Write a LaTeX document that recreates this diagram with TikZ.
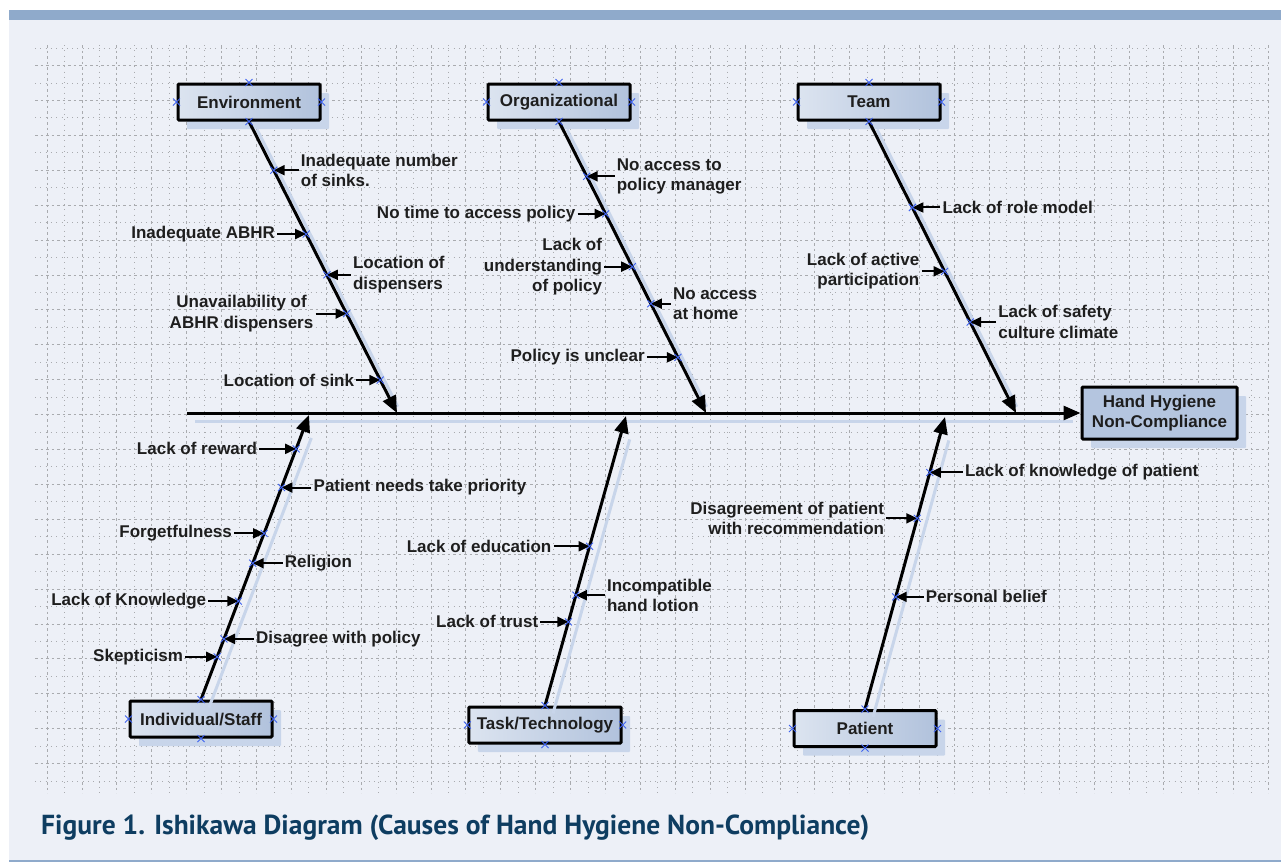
\documentclass[tikz,border=0pt]{standalone}
\usepackage{fontspec}
\setmainfont{Liberation Sans}
\newfontfamily\capfont{PT Sans}
\usetikzlibrary{positioning, arrows.meta, shadows, calc}

\definecolor{bgblue}{HTML}{EDF0F7}
\definecolor{barblue}{HTML}{8FAACB}
\definecolor{gridgray}{HTML}{A9ABAF}
\definecolor{boxlight}{HTML}{DCE4F0}
\definecolor{boxdark}{HTML}{B1C2DC}
\definecolor{effectblue}{HTML}{B4C5DF}
\definecolor{shadowblue}{HTML}{C8D5EA}
\definecolor{markblue}{HTML}{3F63F0}
\definecolor{capblue}{HTML}{0E3D61}
\definecolor{textgray}{HTML}{1E1E1E}

\tikzset{
  catbox/.style={draw=black, line width=3pt, rounded corners=1pt, left color=boxlight, right color=boxdark,
    minimum width=142pt, minimum height=36pt, inner xsep=8pt, text=textgray,
    font=\fontsize{17}{20.5}\selectfont\bfseries,
    drop shadow={shadow xshift=9pt, shadow yshift=-9pt, fill=shadowblue, opacity=1}},
  effectbox/.style={draw=black, line width=3pt, rounded corners=1pt, fill=effectblue, align=center,
    minimum width=155pt, minimum height=52pt, text=textgray,
    font=\fontsize{17}{20.5}\selectfont\bfseries,
    drop shadow={shadow xshift=9pt, shadow yshift=-9pt, fill=shadowblue, opacity=1}},
  bone/.style={line width=3pt, -{Triangle[length=17pt,width=14pt]}},
  bonesh/.style={shadowblue, line width=3pt, shorten >=16pt, transform canvas={shift={(8pt,-8pt)}}},
  cause/.style={line width=2pt, -{Triangle[length=11pt,width=10pt]}},
  lbl/.style={font=\fontsize{17}{20.5}\selectfont\bfseries, text=textgray, inner sep=2pt},
  gridminor/.style={gridgray, line width=0.7pt, dash pattern=on 0.8pt off 4.5pt},
  gridmajor/.style={gridgray, line width=0.7pt, dash pattern=on 2.5pt off 3pt},
  cpt/.pic={\draw[markblue, line width=0.9pt] (-3.5,-3.5) -- (3.5,3.5) (-3.5,3.5) -- (3.5,-3.5);}
}

\begin{document}
\begin{tikzpicture}[x=1pt, y=-1pt]
  \useasboundingbox (0,0) rectangle (1281,863);
  % page background
  \fill[white] (0,0) rectangle (1281,863);
  \fill[bgblue] (9,20) rectangle (1281,860);
  \fill[barblue] (9,10) rectangle (1281,20);
  \draw[barblue, line width=1.5pt] (9,861) -- (1281,861);

  % grid
  \foreach \k in {0,...,70} {
    \pgfmathsetmacro{\gx}{47+17.45*\k}
    \ifodd\k \draw[gridminor] (\gx,45) -- (\gx,793); \else \draw[gridmajor] (\gx,45) -- (\gx,793); \fi
  }
  \foreach \k in {0,...,42} {
    \pgfmathsetmacro{\gy}{48+17.45*\k}
    \ifodd\k \draw[gridmajor] (35,\gy) -- (1268,\gy); \else \draw[gridminor] (35,\gy) -- (1268,\gy); \fi
  }

  % category boxes
  \node[catbox] (env) at (249,102) {Environment};
  \node[catbox] (org) at (559,102) {Organizational};
  \node[catbox] (team) at (869,102) {Team};
  \node[catbox] (indiv) at (201,719) {Individual/Staff};
  \node[catbox] (task) at (545,725) {Task/Technology};
  \node[catbox] (pat) at (865,728.5) {Patient};
  \node[effectbox] (effect) at (1159.5,413) {Hand Hygiene\\Non-Compliance};

  % bone ends
  \coordinate (spinestart) at (187,413);
  \coordinate (envtip) at (397,413);
  \coordinate (orgtip) at (706,413);
  \coordinate (teamtip) at (1016,413);
  \coordinate (indtip) at (309,415);
  \coordinate (tasktip) at (626,416);
  \coordinate (pattip) at (945,417);

  % shadows of the bones
  \draw[bonesh] (spinestart) -- (effect.west);
  \draw[bonesh] (env.south) -- (envtip);
  \draw[bonesh] (org.south) -- (orgtip);
  \draw[bonesh] (team.south) -- (teamtip);
  \draw[bonesh] (indiv.north) -- (indtip);
  \draw[bonesh] (task.north) -- (tasktip);
  \draw[bonesh] (pat.north) -- (pattip);

  % bones
  \draw[bone] (spinestart) -- (effect.west);
  \draw[bone] (env.south) -- (envtip);
  \draw[bone] (org.south) -- (orgtip);
  \draw[bone] (team.south) -- (teamtip);
  \draw[bone] (indiv.north) -- (indtip);
  \draw[bone] (task.north) -- (tasktip);
  \draw[bone] (pat.north) -- (pattip);

  % points on the bones
  \foreach \n/\t in {e1/0.167, e2/0.386, e3/0.526, e4/0.659, e5/0.887}
    \coordinate (\n) at ($(env.south)!\t!(envtip)$);
  \foreach \n/\t in {o1/0.188, o2/0.317, o3/0.498, o4/0.625, o5/0.809}
    \coordinate (\n) at ($(org.south)!\t!(orgtip)$);
  \foreach \n/\t in {t1/0.295, t2/0.514, t3/0.688}
    \coordinate (\n) at ($(team.south)!\t!(teamtip)$);
  \foreach \n/\t in {i1/0.881, i2/0.745, i3/0.584, i4/0.479, i5/0.346, i6/0.213, i7/0.150}
    \coordinate (\n) at ($(indiv.north)!\t!(indtip)$);
  \foreach \n/\t in {k1/0.55, k2/0.381, k3/0.289}
    \coordinate (\n) at ($(task.north)!\t!(tasktip)$);
  \foreach \n/\t in {p1/0.810, p2/0.653, p3/0.384}
    \coordinate (\n) at ($(pat.north)!\t!(pattip)$);

  % Environment causes
  \node[lbl, align=left, right=25pt of e1] (ce1) {Inadequate number\\of sinks.};
  \node[lbl, left=29pt of e2] (ce2) {Inadequate ABHR};
  \node[lbl, align=left, right=24pt of e3] (ce3) {Location of\\dispensers};
  \node[lbl, align=center, left=31pt of e4] (ce4) {Unavailability of\\ABHR dispensers};
  \node[lbl, left=24pt of e5] (ce5) {Location of sink};
  % Organizational causes
  \node[lbl, align=left, right=28pt of o1] (co1) {No access to\\policy manager};
  \node[lbl, left=28pt of o2] (co2) {No time to access policy};
  \node[lbl, align=right, left=28pt of o3] (co3) {Lack of\\understanding\\of policy};
  \node[lbl, align=left, right=20pt of o4] (co4) {No access\\at home};
  \node[lbl, left=31pt of o5] (co5) {Policy is unclear};
  % Team causes
  \node[lbl, right=28pt of t1] (ct1) {Lack of role model};
  \node[lbl, align=right, left=23pt of t2] (ct2) {Lack of active\\participation};
  \node[lbl, align=left, right=26pt of t3] (ct3) {Lack of safety\\culture climate};
  % Individual/Staff causes
  \node[lbl, left=37pt of i1] (ci1) {Lack of reward};
  \node[lbl, right=30pt of i2] (ci2) {Patient needs take priority};
  \node[lbl, left=30pt of i3] (ci3) {Forgetfulness};
  \node[lbl, right=30pt of i4] (ci4) {Religion};
  \node[lbl, left=30pt of i5] (ci5) {Lack of Knowledge};
  \node[lbl, right=30pt of i6] (ci6) {Disagree with policy};
  \node[lbl, left=32pt of i7] (ci7) {Skepticism};
  % Task/Technology causes
  \node[lbl, left=36pt of k1] (ck1) {Lack of education};
  \node[lbl, align=left, right=29pt of k2] (ck2) {Incompatible\\hand lotion};
  \node[lbl, left=28pt of k3] (ck3) {Lack of trust};
  % Patient causes
  \node[lbl, right=33pt of p1] (cp1) {Lack of knowledge of patient};
  \node[lbl, align=right, left=31pt of p2] (cp2) {Disagreement of patient\\with recommendation};
  \node[lbl, right=28pt of p3] (cp3) {Personal belief};

  % cause arrows
  \foreach \c in {e1,e2,e3,e4,e5,o1,o2,o3,o4,o5,t1,t2,t3,i1,i2,i3,i4,i5,i6,i7,k1,k2,k3,p1,p2,p3}
    \draw[cause] (c\c) -- (\c);

  % connection marks
  \foreach \c in {e1,e2,e3,e4,e5,o1,o2,o3,o4,o5,t1,t2,t3,i1,i2,i3,i4,i5,i6,i7,k1,k2,k3,p1,p2,p3}
    \pic at (\c) {cpt};
  \foreach \b in {env,org,team,indiv,task,pat}
    \foreach \a in {north,south,east,west}
      \pic at (\b.\a) {cpt};

  % caption
  \node[anchor=west, inner sep=0pt, text=capblue, font=\capfont\bfseries\fontsize{27.5}{32}\selectfont] (caption) at (41,828)
    {Figure 1. Ishikawa Diagram (Causes of Hand Hygiene Non-Compliance)};
\end{tikzpicture}
\end{document}
